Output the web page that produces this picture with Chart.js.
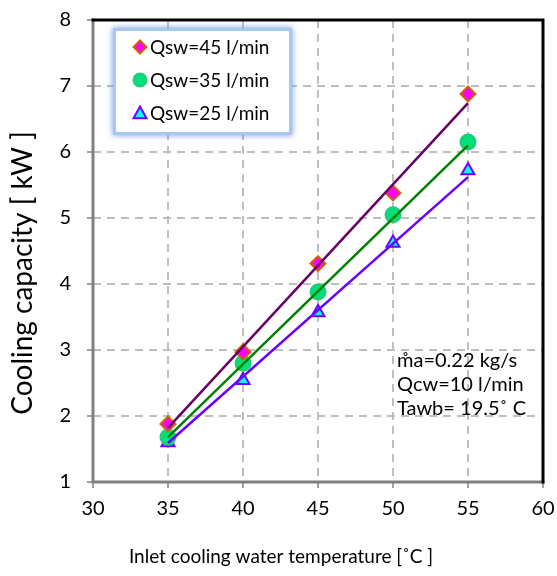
<!DOCTYPE html>
<html>
<head>
<meta charset="utf-8">
<script src="https://cdn.jsdelivr.net/npm/chart.js@4"></script>
<style>
    html, body { margin: 0; padding: 0; background: #fff; }
    #wrap { width: 557px; height: 576px; position: relative; }
</style>
</head>
<body>
<div id="wrap"><canvas id="chart" width="557" height="576"></canvas></div>
<script>
// measured points
let tempC = [35, 40, 45, 50, 55];
let qsw45 = [1.88, 2.97, 4.31, 5.38, 6.88];
let qsw35 = [1.68, 2.80, 3.88, 5.05, 6.15];
let qsw25 = [1.60, 2.54, 3.57, 4.62, 5.72];

// trend lines (ends at 35 and 55)
let trendX = [35, 55];
let trend45 = [1.82, 6.74];
let trend35 = [1.68, 6.10];
let trend25 = [1.59, 5.62];

let seriesLabels = ['Qsw=45 l/min', 'Qsw=35 l/min', 'Qsw=25 l/min'];
let noteLines = ['m\u030Aa=0.22 kg/s', 'Qcw=10 l/min', 'Tawb= 19.5\u02DA C'];
let xTitle = 'Inlet cooling water temperature [\u02DAC ]';
let yTitle = 'Cooling capacity [ kW ]';

const FONT = "Lato, 'Open Sans', sans-serif";

function pts(xs, ys) {
    return xs.map((x, i) => ({ x: x, y: ys[i] }));
}

let markers = [
    { style: 'rectRot', fill: '#FF00FF', stroke: '#CC6600', radius: 7.5 },
    { style: 'circle', fill: '#00E07A', stroke: '#22CC77', radius: 7.5 },
    { style: 'triangle', fill: '#00FFFF', stroke: '#7000FF', radius: 7.5 }
];
let lineColors = ['#660066', '#008000', '#6A00FF'];

function drawMarker(ctx, m, x, y) {
    ctx.save();
    ctx.fillStyle = m.fill;
    ctx.strokeStyle = m.stroke;
    ctx.lineWidth = 2;
    ctx.beginPath();
    let r = m.radius - 1;
    if (m.style === 'rectRot') {
        ctx.moveTo(x, y - r); ctx.lineTo(x + r, y); ctx.lineTo(x, y + r); ctx.lineTo(x - r, y);
        ctx.closePath();
    } else if (m.style === 'circle') {
        ctx.arc(x, y, r, 0, Math.PI * 2);
    } else {
        ctx.moveTo(x, y - r); ctx.lineTo(x + r, y + r * 0.8); ctx.lineTo(x - r, y + r * 0.8);
        ctx.closePath();
    }
    ctx.fill();
    ctx.stroke();
    ctx.restore();
}

// frame, legend box, note text and axis titles
const extras = {
    id: 'extras',
    afterDatasetsDraw(chart) {
        const ctx = chart.ctx;
        const a = chart.chartArea;
        ctx.save();
        // frame
        ctx.lineCap = 'square';
        ctx.lineWidth = 3;
        ctx.strokeStyle = '#808080';
        ctx.beginPath();
        ctx.moveTo(a.left, a.top); ctx.lineTo(a.left, a.bottom); ctx.lineTo(a.right, a.bottom);
        ctx.stroke();
        ctx.strokeStyle = '#000';
        ctx.beginPath();
        ctx.moveTo(a.left, a.top); ctx.lineTo(a.right, a.top); ctx.lineTo(a.right, a.bottom);
        ctx.stroke();

        // legend box with blue glow
        let bx = 116, by = 31, bw = 173, bh = 101;
        ctx.shadowColor = 'rgba(90,140,230,0.9)';
        ctx.shadowBlur = 6;
        ctx.fillStyle = '#A8C8F2';
        ctx.fillRect(bx - 3, by - 3, bw + 6, bh + 6);
        ctx.shadowBlur = 0;
        ctx.fillStyle = '#fff';
        ctx.fillRect(bx, by, bw, bh);

        ctx.font = '19px ' + FONT;
        ctx.fillStyle = '#000';
        ctx.textBaseline = 'middle';
        seriesLabels.forEach((lab, i) => {
            let yy = 47 + i * 33;
            drawMarker(ctx, markers[i], 140, yy);
            ctx.fillText(lab, 150, yy + 1);
        });

        // note
        ctx.font = '20px ' + FONT;
        noteLines.forEach((t, i) => {
            ctx.fillText(t, 397, 361 + i * 24);
        });

        // axis titles
        ctx.textAlign = 'center';
        ctx.font = '19px ' + FONT;
        ctx.fillText(xTitle, 281, 557);
        ctx.translate(23, 273);
        ctx.rotate(-Math.PI / 2);
        ctx.font = '28px ' + FONT;
        ctx.fillText(yTitle, 0, 0);
        ctx.restore();
    }
};

let datasets = [];
[trend45, trend35, trend25].forEach((t, i) => {
    datasets.push({
        label: 'trend ' + seriesLabels[i],
        data: pts(trendX, t),
        showLine: true,
        borderColor: lineColors[i],
        borderWidth: 2.5,
        pointRadius: 0,
        order: 0
    });
});
[qsw45, qsw35, qsw25].forEach((s, i) => {
    datasets.push({
        label: seriesLabels[i],
        data: pts(tempC, s),
        showLine: false,
        pointStyle: markers[i].style,
        pointRadius: markers[i].radius,
        backgroundColor: markers[i].fill,
        borderColor: markers[i].stroke,
        pointBorderWidth: 2,
        order: 1
    });
});

new Chart(document.getElementById('chart').getContext('2d'), {
    type: 'scatter',
    data: { datasets: datasets },
    options: {
        responsive: false,
        animation: false,
        devicePixelRatio: 1,
        layout: { padding: { top: 20, right: 14, left: 0, bottom: 0 } },
        plugins: { legend: { display: false }, tooltip: { enabled: false } },
        scales: {
            x: {
                min: 30, max: 60,
                ticks: { stepSize: 5, color: '#000', padding: 9, font: { size: 20, family: FONT } },
                grid: {
                    color: '#BFBFBF', lineWidth: 2,
                    tickLength: 6, tickColor: '#A0A0A0',
                    drawTicks: true
                },
                border: { display: false, dash: [8, 6] },
                afterFit(scale) {
                    scale.height = 94;
                    scale.paddingLeft = 0;
                    scale.paddingRight = 0;
                }
            },
            y: {
                min: 1, max: 8,
                ticks: { stepSize: 1, color: '#000', padding: 16, font: { size: 20, family: FONT } },
                grid: {
                    color: '#BFBFBF', lineWidth: 2,
                    tickLength: 6, tickColor: '#A0A0A0',
                    drawTicks: true
                },
                border: { display: false, dash: [8, 6] },
                afterFit(scale) {
                    scale.width = 93;
                    scale.paddingTop = 0;
                    scale.paddingBottom = 0;
                }
            }
        }
    },
    plugins: [extras]
});
</script>
</body>
</html>
